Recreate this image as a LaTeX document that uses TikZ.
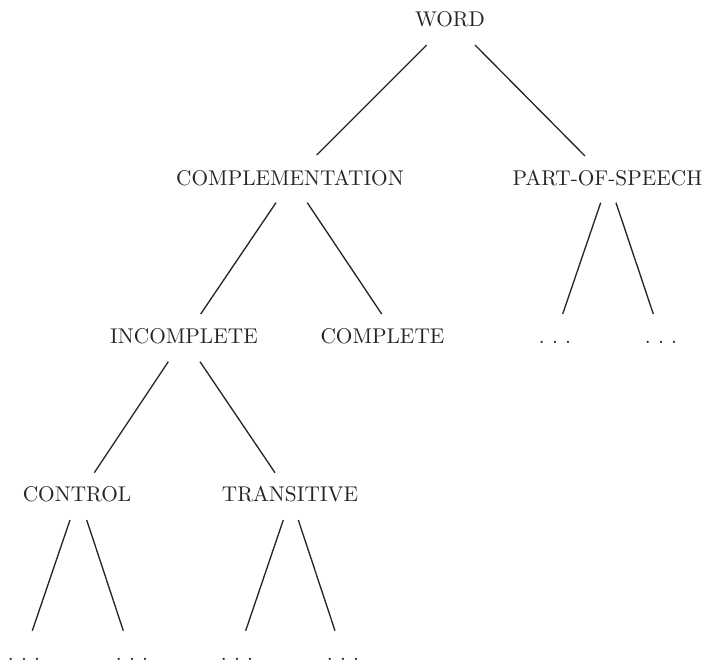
\documentclass[tikz,border=0pt]{standalone}
\usetikzlibrary{calc}
\definecolor{ink}{HTML}{262626}
\newcommand\spreaddots{.\kern3.4pt.\kern3.4pt.}
\begin{document}
\begin{tikzpicture}[x=0.75pt,y=-0.75pt,
  lbl/.style={anchor=base,inner sep=0pt,text=ink,font=\fontsize{10}{12}\selectfont,scale=1.6},
  edge/.style={draw=ink,line width=1pt}]
\useasboundingbox (0,0) rectangle (708,663);
% nodes
\node[lbl] (word) at (450,27) {WORD};
\node[lbl] (compl) at (290,185.5) {COMPLEMENTATION};
\node[lbl] (pos) at (607.5,185.5) {PART-OF-SPEECH};
\node[lbl] (incompl) at (184,344) {INCOMPLETE};
\node[lbl] (complete) at (382.5,344) {COMPLETE};
\node[lbl] (pd1) at (555,343.5) {\spreaddots};
\node[lbl] (pd2) at (661,343.5) {\spreaddots};
\node[lbl] (control) at (77,501.5) {CONTROL};
\node[lbl] (trans) at (290,501.5) {TRANSITIVE};
\node[lbl] (d1) at (24,660.5) {\spreaddots};
\node[lbl] (d2) at (132,660.5) {\spreaddots};
\node[lbl] (d3) at (237,660.5) {\spreaddots};
\node[lbl] (d4) at (343,660.5) {\spreaddots};
% edges
\draw[edge] ([shift={(-23.3,18)}]word.base) -- ([shift={(26.7,-30.5)}]compl.base);
\draw[edge] ([shift={(25,18)}]word.base) -- ([shift={(-22.5,-29.5)}]pos.base);
\draw[edge] ([shift={(-14,17.2)}]compl.base) -- ([shift={(16.7,-30)}]incompl.base);
\draw[edge] ([shift={(17.3,17.2)}]compl.base) -- ([shift={(-0.8,-30)}]complete.base);
\draw[edge] ([shift={(-6.8,17.2)}]pos.base) -- ([shift={(7.7,-29.5)}]pd1.base);
\draw[edge] ([shift={(8.5,17.2)}]pos.base) -- ([shift={(-7.7,-29.5)}]pd2.base);
\draw[edge] ([shift={(-15.7,17.7)}]incompl.base) -- ([shift={(17.3,-28.8)}]control.base);
\draw[edge] ([shift={(16,17.7)}]incompl.base) -- ([shift={(-15,-28.8)}]trans.base);
\draw[edge] ([shift={(-7,18.5)}]control.base) -- ([shift={(8.3,-29.8)}]d1.base);
\draw[edge] ([shift={(9.7,18.5)}]control.base) -- ([shift={(-8.7,-29.8)}]d2.base);
\draw[edge] ([shift={(-6.7,18.5)}]trans.base) -- ([shift={(8.7,-29.8)}]d3.base);
\draw[edge] ([shift={(8.3,18.5)}]trans.base) -- ([shift={(-8,-29.8)}]d4.base);
\end{tikzpicture}
\end{document}
